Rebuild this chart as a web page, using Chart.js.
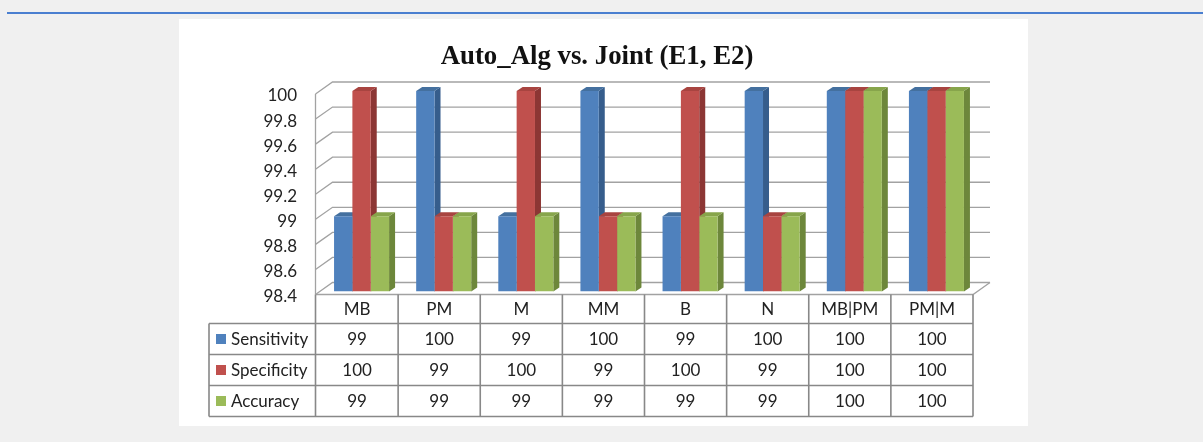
<!DOCTYPE html>
<html>
<head>
<meta charset="utf-8">
<script src="https://cdn.jsdelivr.net/npm/chart.js@4.4.1/dist/chart.umd.min.js"></script>
<style>
  html, body { margin: 0; padding: 0; background: #f0f0f0; }
  #page { position: relative; width: 1203px; height: 442px; overflow: hidden; background: #f0f0f0; }
  #rule { position: absolute; left: 7px; top: 12px; width: 1196px; height: 2px; background: #4a7fd0; }
  #panel { position: absolute; left: 179px; top: 19px; width: 849px; height: 407px; background: #ffffff; }
  #chart { position: absolute; left: 0; top: 0; }
</style>
</head>
<body>
<div id="page">
  <div id="rule"></div>
  <div id="panel"></div>
  <canvas id="chart" width="1203" height="442"></canvas>
</div>
<script>
// Categories and series
const categories = ['MB', 'PM', 'M', 'MM', 'B', 'N', 'MB|PM', 'PM|M'];
const sensitivity = [99, 100, 99, 100, 99, 100, 100, 100];
const specificity = [100, 99, 100, 99, 100, 99, 100, 100];
const accuracy = [99, 99, 99, 99, 99, 99, 100, 100];
const seriesNames = ['Sensitivity', 'Specificity', 'Accuracy'];

// Value axis ticks
const yTickValues = [98.4, 98.6, 98.8, 99, 99.2, 99.4, 99.6, 99.8, 100];
const yTickLabels = ['98.4', '98.6', '98.8', '99', '99.2', '99.4', '99.6', '99.8', '100'];

const chartTitle = 'Auto_Alg vs. Joint (E1, E2)';

// Colours: front / top / side faces
const palette = [
  { front: '#4f81bd', top: '#44709f', side: '#365d8c' },
  { front: '#c0504d', top: '#a84440', side: '#8c3634' },
  { front: '#9bbb59', top: '#87a54b', side: '#6d873b' }
];

// Oblique projection offsets (pixels)
const BAR_DX = 6, BAR_DY = -4;          // depth of each column
const FRONT_DX = -4.5, FRONT_DY = 3;    // front edge of the floor relative to column faces
const BACK_DX = 12.5, BACK_DY = -9;     // back wall relative to column faces
const GRID = '#a2a2a2';
const TABLE_LINE = '#888888';
const FONT = 'Lato, "Open Sans", sans-serif';

const walls3d = {
  id: 'walls3d',
  beforeDatasetsDraw(chart) {
    const { ctx, chartArea: a, scales: { y } } = chart;
    const fl = a.left + FRONT_DX - 0.5;
    const fr = a.right + FRONT_DX;
    const br = a.right + BACK_DX;
    ctx.save();
    ctx.strokeStyle = GRID;
    ctx.lineWidth = 1.3;
    yTickValues.forEach((v) => {
      const yb = y.getPixelForValue(v);
      ctx.beginPath();
      ctx.moveTo(fl, yb + FRONT_DY);
      ctx.lineTo(fl + (BACK_DX - FRONT_DX), yb + BACK_DY);
      ctx.lineTo(br, yb + BACK_DY);
      ctx.stroke();
    });
    // floor front and right edges
    const yf = y.getPixelForValue(yTickValues[0]);
    ctx.beginPath();
    ctx.moveTo(fl, yf + FRONT_DY);
    ctx.lineTo(fr, yf + FRONT_DY);
    ctx.lineTo(br, yf + BACK_DY);
    ctx.stroke();
    // left front edge of the side wall
    const yt = y.getPixelForValue(yTickValues[yTickValues.length - 1]);
    ctx.beginPath();
    ctx.moveTo(fl, yt + FRONT_DY);
    ctx.lineTo(fl, yf + FRONT_DY);
    ctx.stroke();

    // column side faces first, then top faces; the front faces come from the bar elements
    const bars = [];
    chart.data.datasets.forEach((ds, di) => {
      chart.getDatasetMeta(di).data.forEach((el) => {
        const p = el.getProps(['x', 'y', 'base', 'width'], true);
        bars.push({ di, l: p.x - p.width / 2, r: p.x + p.width / 2, t: p.y, b: p.base });
      });
    });
    bars.forEach((bb) => {
      ctx.fillStyle = palette[bb.di].side;
      ctx.beginPath();
      ctx.moveTo(bb.r, bb.t);
      ctx.lineTo(bb.r + BAR_DX, bb.t + BAR_DY);
      ctx.lineTo(bb.r + BAR_DX, bb.b + BAR_DY);
      ctx.lineTo(bb.r, bb.b);
      ctx.closePath();
      ctx.fill();
    });
    bars.forEach((bb) => {
      ctx.fillStyle = palette[bb.di].top;
      ctx.beginPath();
      ctx.moveTo(bb.l, bb.t);
      ctx.lineTo(bb.l + BAR_DX, bb.t + BAR_DY);
      ctx.lineTo(bb.r + BAR_DX, bb.t + BAR_DY);
      ctx.lineTo(bb.r, bb.t);
      ctx.closePath();
      ctx.fill();
    });
    ctx.restore();
  },
  afterDraw(chart) {
    const { ctx, chartArea: a, scales: { x, y } } = chart;
    const yf = y.getPixelForValue(yTickValues[0]) + FRONT_DY;
    const colW = (a.right - a.left) / categories.length;
    const tableLeft = 209;
    const colLeft = a.left + FRONT_DX - 0.5;
    const colRight = a.right + FRONT_DX;
    const rows = [yf, yf + 29, yf + 60, yf + 91, yf + 122];

    ctx.save();
    // title
    ctx.fillStyle = '#111';
    ctx.font = 'bold 26.8px "Liberation Serif", "Times New Roman", serif';
    ctx.textAlign = 'center';
    ctx.textBaseline = 'alphabetic';
    ctx.fillText(chartTitle, 597, 64);

    // table grid
    ctx.strokeStyle = TABLE_LINE;
    ctx.lineWidth = 1.6;
    ctx.beginPath();
    for (let r = 1; r < rows.length; r++) {
      ctx.moveTo(tableLeft, rows[r]);
      ctx.lineTo(colRight, rows[r]);
    }
    ctx.moveTo(tableLeft, rows[1]);
    ctx.lineTo(tableLeft, rows[4]);
    for (let i = 0; i <= categories.length; i++) {
      const cx = i < categories.length ? x.getPixelForValue(i) + FRONT_DX - colW / 2 : colRight;
      ctx.moveTo(i === 0 ? colLeft : cx, rows[0]);
      ctx.lineTo(i === 0 ? colLeft : cx, rows[4]);
    }
    ctx.stroke();

    // table text
    ctx.fillStyle = '#222';
    ctx.font = '17px ' + FONT;
    ctx.textBaseline = 'middle';
    ctx.textAlign = 'center';
    const series = [sensitivity, specificity, accuracy];
    categories.forEach((c, i) => {
      const cx = x.getPixelForValue(i) + FRONT_DX;
      ctx.fillText(c, cx, (rows[0] + rows[1]) / 2 + 1);
      series.forEach((s, si) => {
        ctx.fillText(String(s[i]), cx, (rows[si + 1] + rows[si + 2]) / 2 + 1);
      });
    });
    ctx.textAlign = 'left';
    seriesNames.forEach((n, si) => {
      const cy = (rows[si + 1] + rows[si + 2]) / 2;
      ctx.fillStyle = palette[si].front;
      ctx.fillRect(216, cy - 5, 10, 10);
      ctx.fillStyle = '#222';
      ctx.fillText(n, 231, cy + 1);
    });
    ctx.restore();
  }
};

new Chart(document.getElementById('chart'), {
  type: 'bar',
  data: {
    labels: categories,
    datasets: [
      { label: seriesNames[0], data: sensitivity, backgroundColor: palette[0].front },
      { label: seriesNames[1], data: specificity, backgroundColor: palette[1].front },
      { label: seriesNames[2], data: accuracy, backgroundColor: palette[2].front }
    ]
  },
  options: {
    responsive: false,
    animation: false,
    layout: { padding: { top: 91, bottom: 150.5, left: 0, right: 225.5 } },
    datasets: { bar: { barPercentage: 1, categoryPercentage: 0.67, base: yTickValues[0] } },
    plugins: {
      legend: { display: false },
      tooltip: { enabled: false },
      title: { display: false }
    },
    scales: {
      x: { display: false },
      y: {
        min: 98.4,
        max: 100,
        grid: { display: false, drawTicks: false, tickLength: 0 },
        border: { display: false },
        afterFit: (s) => { s.width = 320.5; },
        afterBuildTicks: (s) => { s.ticks = yTickValues.map((v) => ({ value: v })); },
        ticks: {
          padding: 23.5,
          labelOffset: 5,
          color: '#222',
          font: { family: FONT, size: 17 },
          callback: (v, i) => yTickLabels[i]
        }
      }
    }
  },
  plugins: [walls3d]
});
</script>
</body>
</html>
